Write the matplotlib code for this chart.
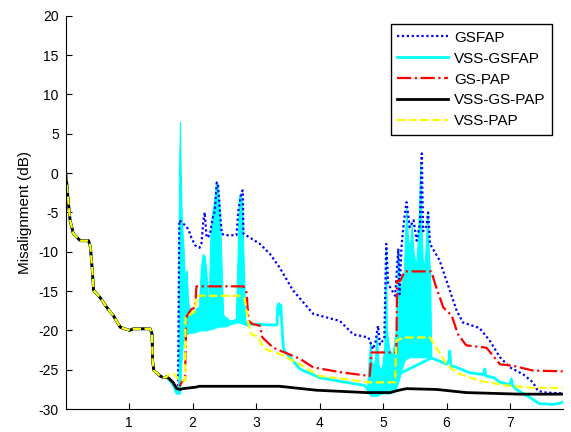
import matplotlib
matplotlib.use("Agg")
import matplotlib.pyplot as plt

plt.rcParams['font.family'] = ['Liberation Sans', 'DejaVu Sans']
plt.rcParams['axes.unicode_minus'] = False

# shared start of all five curves (they coincide until ~1.6)
head_x = [0, 0.02, 0.04, 0.07, 0.12, 0.23, 0.36, 0.39, 0.42, 0.44, 0.54, 0.65, 0.75, 0.86,
          1.01, 1.06, 1.33, 1.36, 1.37, 1.39, 1.49, 1.54, 1.59]
head_y = [0, -1.5, -3.5, -6.0, -7.7, -8.6, -8.6, -9.4, -12.4, -14.9, -15.8, -17.1, -18.1, -19.6,
          -20.0, -19.8, -19.8, -20.4, -23.9, -25.1, -25.8, -26.0, -25.9]

# GSFAP
gsfap_x = [1.64, 1.70, 1.77, 1.79, 1.85, 1.93, 1.98, 2.04, 2.11, 2.14, 2.17, 2.19, 2.22, 2.27,
           2.32, 2.35, 2.38, 2.40, 2.43, 2.46, 2.50, 2.69, 2.72, 2.77, 2.79, 2.80, 2.90, 3.06,
           3.22, 3.37, 3.58, 3.90, 4.32, 4.53, 4.77, 4.84, 4.88, 4.92, 4.95, 5.02, 5.05, 5.08,
           5.11, 5.19, 5.24, 5.26, 5.29, 5.33, 5.37, 5.42, 5.48, 5.53, 5.58, 5.61, 5.63, 5.68,
           5.71, 5.74, 5.89, 6.00, 6.16, 6.26, 6.52, 6.68, 6.84, 7.00, 7.21, 7.36, 7.44, 7.57, 7.83]
gsfap_y = [-26.2, -26.8, -27.5, -6.0, -6.4, -7.1, -8.2, -9.2, -9.5, -8.9, -6.0, -5.0, -8.2, -7.9,
           -5.6, -4.8, -1.2, -1.5, -4.9, -7.7, -7.9, -7.9, -4.8, -2.4, -2.2, -7.7, -8.2, -9.0,
           -10.3, -12.0, -14.9, -17.9, -18.8, -20.5, -20.9, -22.4, -21.5, -19.4, -21.8, -21.0, -9.0, -14.0,
           -14.5, -15.6, -9.6, -15.4, -9.4, -6.0, -3.7, -6.9, -6.0, -8.6, -6.5, 2.5, -7.4, -6.8,
           -5.0, -9.0, -11.1, -13.7, -17.5, -19.0, -19.7, -21.3, -23.4, -24.7, -25.6, -26.6, -27.7, -27.9, -28.0]

# VSS-GSFAP: main trace
vgsfap_x = [1.64, 1.70, 1.75, 1.78, 1.85, 1.95, 2.10, 2.30, 2.50, 2.70, 2.85, 3.00, 3.20, 3.33,
            3.34, 3.36, 3.38, 3.39, 3.41, 3.43, 3.45, 3.53, 3.69, 4.00, 4.42, 4.71, 4.76,
            5.76, 5.89, 6.00, 6.04, 6.05, 6.07, 6.16, 6.37, 6.58, 6.60, 6.62, 6.75, 6.84,
            7.00, 7.02, 7.04, 7.10, 7.31, 7.46, 7.67, 7.81, 7.83]
vgsfap_y = [-26.4, -27.0, -28.0, -28.0, -20.5, -19.2, -19.0, -19.0, -19.0, -18.8, -19.2, -19.2, -19.3, -19.3,
            -17.0, -16.6, -18.0, -16.8, -20.0, -22.2, -22.6, -23.4, -24.9, -26.0, -26.6, -27.0, -27.5,
            -23.5, -23.9, -24.3, -23.8, -22.6, -24.5, -24.7, -25.4, -25.6, -24.9, -25.8, -26.0, -26.6,
            -26.9, -26.2, -27.0, -27.5, -28.5, -29.3, -29.4, -29.2, -29.1]
# VSS-GSFAP: envelope of the fast oscillation, first burst
burst1_x = [1.775, 1.785, 1.80, 1.81, 1.83, 1.86, 1.88, 1.90, 1.905, 1.93, 1.96, 2.00, 2.05, 2.10,
            2.13, 2.16, 2.19, 2.22, 2.25, 2.28, 2.31, 2.34, 2.37, 2.39, 2.42, 2.45, 2.48, 2.52,
            2.60, 2.68, 2.71, 2.73, 2.75, 2.78, 2.80, 2.83, 2.88]
burst1_lo = [-28.0, -28.0, -28.0, -26.0, -22.0, -21.0, -20.8, -20.5, -20.5, -20.3, -20.3, -20.3, -20.2, -20.0,
             -20.0, -20.0, -20.0, -20.0, -19.9, -19.8, -19.8, -19.7, -19.6, -19.6, -19.5, -19.5, -19.5, -19.5,
             -19.2, -19.0, -19.0, -19.0, -19.0, -19.1, -19.2, -19.3, -19.4]
burst1_hi = [-27.0, 0.0, 6.5, 1.0, -6.0, -10.0, -14.0, -13.0, -12.4, -16.5, -17.5, -18.0, -17.2, -17.0,
             -12.0, -10.3, -10.5, -13.0, -17.5, -8.0, -5.0, -3.5, -1.2, -1.3, -4.0, -10.0, -18.0, -18.3,
             -18.8, -18.5, -10.0, -3.0, -2.6, -3.5, -10.0, -18.8, -19.2]
# second burst
burst2_x = [4.75, 4.78, 4.80, 4.82, 4.86, 4.90, 4.93, 4.98, 5.02, 5.045, 5.06, 5.10, 5.15, 5.20,
            5.22, 5.24, 5.26, 5.29, 5.31, 5.33, 5.35, 5.37, 5.39, 5.42, 5.45, 5.48, 5.52, 5.55,
            5.57, 5.585, 5.60, 5.63, 5.66, 5.70, 5.72, 5.74, 5.76]
burst2_lo = [-27.5, -28.0, -28.3, -28.3, -28.3, -28.3, -28.2, -28.0, -28.0, -28.0, -28.0, -28.0, -27.8, -27.5,
             -27.0, -26.5, -26.0, -25.0, -24.5, -24.0, -23.7, -23.6, -23.5, -23.4, -23.4, -23.4, -23.4, -23.4,
             -23.4, -23.4, -23.4, -23.4, -23.4, -23.4, -23.4, -23.4, -23.5]
burst2_hi = [-27.0, -23.0, -21.3, -24.0, -24.5, -20.5, -24.5, -25.0, -22.0, -9.4, -20.0, -22.5, -23.0, -20.0,
             -15.0, -9.8, -15.0, -14.0, -13.0, -12.4, -7.0, -4.4, -8.0, -10.0, -6.5, -10.0, -12.0, -8.0,
             -4.0, 1.4, -6.0, -12.0, -11.0, -5.0, -10.0, -12.5, -23.5]

# GS-PAP
gspap_x = [1.64, 1.69, 1.75, 1.78, 1.83, 1.88, 1.90, 1.98, 2.04, 2.06, 2.80, 2.85, 2.88, 2.95,
           3.06, 3.10, 3.27, 3.45, 3.69, 3.90, 4.32, 4.79, 4.82, 5.21, 5.22, 5.27, 5.34, 5.76,
           5.82, 5.95, 6.08, 6.18, 6.31, 6.63, 6.84, 7.05, 7.36, 7.83]
gspap_y = [-26.2, -26.6, -27.3, -27.4, -26.5, -26.3, -18.3, -17.3, -17.1, -14.4, -14.4, -15.2, -18.8, -19.2,
           -19.4, -20.9, -22.2, -22.8, -23.6, -24.7, -25.3, -25.8, -22.8, -22.8, -13.7, -13.7, -12.5, -12.5,
           -14.1, -17.1, -18.1, -20.5, -21.9, -22.2, -24.3, -24.5, -25.1, -25.2]

# VSS-GS-PAP
vgspap_x = [1.64, 1.69, 1.75, 1.80, 1.85, 2.06, 2.10, 3.37, 3.95, 4.74, 5.11, 5.25, 5.37, 5.84,
            6.31, 6.73, 7.15, 7.83]
vgspap_y = [-26.2, -26.6, -27.4, -27.5, -27.4, -27.2, -27.1, -27.1, -27.6, -27.9, -27.9, -27.6, -27.4, -27.5,
            -27.9, -28.0, -28.1, -28.1]

# VSS-PAP
vpap_x = [1.64, 1.70, 1.74, 1.78, 1.88, 1.89, 1.96, 2.04, 2.06, 2.77, 2.82, 2.88, 2.93, 3.03,
          3.11, 3.22, 3.37, 3.69, 4.00, 4.42, 4.79, 5.19, 5.21, 5.32, 5.74, 5.84, 6.00, 6.16,
          6.52, 6.94, 7.36, 7.83]
vpap_y = [-25.5, -25.5, -25.8, -26.3, -26.4, -18.3, -18.0, -17.5, -15.6, -15.6, -16.0, -19.2, -20.5, -20.8,
          -22.2, -22.6, -23.0, -24.3, -25.8, -26.2, -26.6, -26.6, -21.3, -20.9, -20.9, -22.2, -24.3, -25.4,
          -26.4, -27.0, -27.3, -27.3]

fig = plt.figure(figsize=(5.71, 4.32), dpi=100)
ax = fig.add_axes([0.115, 0.053, 0.8705, 0.9107])

ax.plot(head_x + gsfap_x, head_y + gsfap_y, color='blue', lw=1.6, dashes=(1, 1.2), label='GSFAP')
ax.plot(head_x + vgsfap_x, head_y + vgsfap_y, '-', color='cyan', lw=2, label='VSS-GSFAP')
ax.fill_between(burst1_x, burst1_lo, burst1_hi, color='cyan', lw=0.8, edgecolor='cyan')
ax.fill_between(burst2_x, burst2_lo, burst2_hi, color='cyan', lw=0.8, edgecolor='cyan')
ax.plot(head_x + gspap_x, head_y + gspap_y, '-.', color='red', lw=1.6, label='GS-PAP')
ax.plot(head_x + vgspap_x, head_y + vgspap_y, '-', color='black', lw=2, label='VSS-GS-PAP')
ax.plot(head_x + vpap_x, head_y + vpap_y, '--', color='yellow', lw=1.6, label='VSS-PAP')

ax.set_xlim(0, 7.83)
ax.set_ylim(-30, 20)
ax.set_xticks(range(1, 8))
ax.set_yticks(range(-30, 21, 5))
ax.tick_params(direction='in', length=4.5, labelsize=10, pad=5)
ax.spines['top'].set_visible(False)
ax.spines['right'].set_visible(False)
ax.set_ylabel('Misalignment (dB)', fontsize=11, labelpad=5)

leg = ax.legend(loc='upper right', bbox_to_anchor=(0.979, 0.979), borderaxespad=0,
                fontsize=11, handlelength=3.3, handletextpad=0.4, labelspacing=0.45,
                borderpad=0.45, fancybox=False, framealpha=1, edgecolor='black')
leg.get_frame().set_linewidth(1)

fig.savefig('out.png', dpi=100)
